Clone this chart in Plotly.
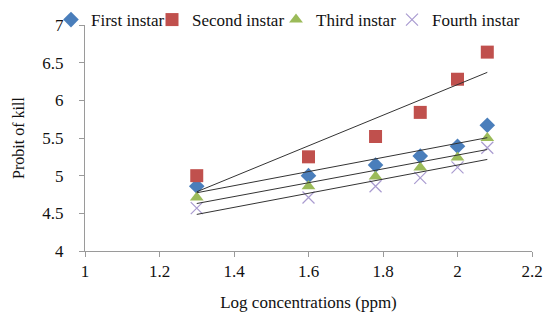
import numpy as np
import plotly.graph_objects as go

log_conc = [1.3, 1.6, 1.78, 1.9, 2.0, 2.08]
first_instar = [4.86, 5.0, 5.14, 5.26, 5.39, 5.67]
second_instar = [5.0, 5.25, 5.52, 5.84, 6.28, 6.64]
third_instar = [4.71, 4.86, 4.99, 5.11, 5.24, 5.50]
fourth_instar = [4.57, 4.71, 4.86, 4.97, 5.11, 5.37]

series = [
    ("First instar", first_instar, dict(symbol="diamond", size=12, color="#4a7ebb")),
    ("Second instar", second_instar, dict(symbol="square", size=13, color="#c0504d")),
    ("Third instar", third_instar, dict(symbol="triangle-up", size=12, color="#9bbb59")),
    ("Fourth instar", fourth_instar, dict(symbol="x-thin", size=12, color="#a99bd0",
                                          line=dict(width=1.2, color="#a99bd0"))),
]
legend_ids = ["legend", "legend2", "legend3", "legend4"]
legend_x = [-0.0761, 0.1499, 0.4273, 0.6868]

fig = go.Figure()
x = np.array(log_conc)
for (name, vals, mk), lid in zip(series, legend_ids):
    fig.add_trace(go.Scatter(x=log_conc, y=vals, mode="markers", name=name, marker=mk,
                             legend=lid))
for name, vals, mk in series:
    slope, icpt = np.polyfit(x, np.array(vals), 1)
    xs = [x.min(), x.max()]
    fig.add_trace(go.Scatter(x=xs, y=[slope * v + icpt for v in xs], mode="lines",
                             line=dict(color="#333333", width=1), showlegend=False,
                             hoverinfo="skip"))

font = "Liberation Serif, Times New Roman, serif"
legend_layout = {}
for lid, lx in zip(legend_ids, legend_x):
    legend_layout[lid] = dict(orientation="h", x=lx, xanchor="left", y=1.022,
                              yanchor="middle", bgcolor="rgba(0,0,0,0)",
                              font=dict(size=17, family=font), itemwidth=30)

fig.update_layout(
    width=554, height=325,
    margin=dict(l=85, r=22, t=25, b=74, autoexpand=False),
    paper_bgcolor="white", plot_bgcolor="white",
    font=dict(family=font, size=16, color="#111111"),
    showlegend=True,
    xaxis=dict(range=[1, 2.2], tickvals=[1, 1.2, 1.4, 1.6, 1.8, 2, 2.2],
               ticktext=["1", "1.2", "1.4", "1.6", "1.8", "2", "2.2"],
               showgrid=False, zeroline=False, showline=True, linecolor="#9a9a9a",
               ticks="outside", ticklen=5, tickcolor="#9a9a9a",
               title=dict(text="Log concentrations (ppm)", font=dict(size=17), standoff=15),
               tickfont=dict(size=17)),
    yaxis=dict(range=[4, 7], tickvals=[4, 4.5, 5, 5.5, 6, 6.5, 7],
               ticktext=["4", "4.5", "5", "5.5", "6", "6.5", "7"],
               showgrid=False, zeroline=False, showline=True, linecolor="#9a9a9a",
               ticks="outside", ticklen=5, tickcolor="#9a9a9a", ticklabelstandoff=12,
               title=dict(text="Probit of kill", font=dict(size=16), standoff=13),
               tickfont=dict(size=17)),
    **legend_layout,
)
fig.write_html("out.html", config={"displayModeBar": False},
               post_script="document.body.style.margin='0';document.body.style.padding='0';")
